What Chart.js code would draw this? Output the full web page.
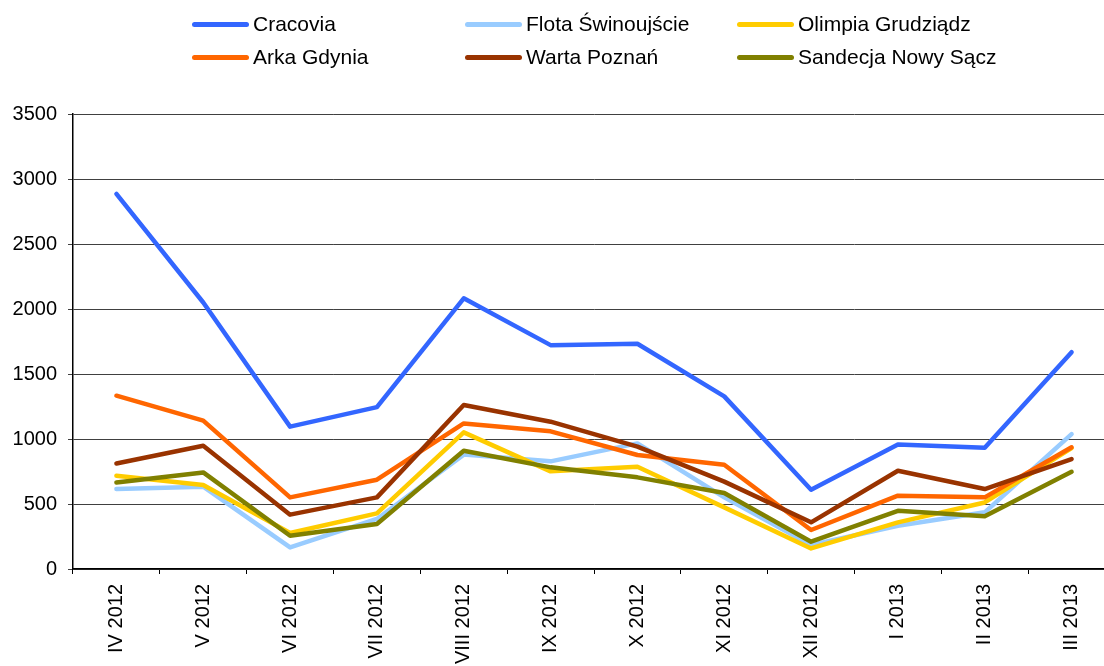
<!DOCTYPE html>
<html>
<head>
<meta charset="utf-8">
<script src="https://cdn.jsdelivr.net/npm/chart.js@4"></script>
<style>
  body { margin: 0; background: #fff; overflow: hidden; }
  #wrap { position: relative; width: 1115px; height: 666px; }
  #legend { position: absolute; left: 0; top: 0; width: 1104px; height: 80px;
            font-family: "Liberation Sans", Arial, sans-serif; font-size: 21px; color: #000; }
  .item { position: absolute; display: flex; align-items: center; height: 26px; white-space: nowrap; }
  .swatch { display: inline-block; width: 57px; height: 5px; border-radius: 3px; margin-right: 4px; }
</style>
</head>
<body>
<div id="wrap">
  <canvas id="chart"></canvas>
  <div id="legend"></div>
</div>
<script>
// --- dane ---
const categories = ['IV 2012', 'V 2012', 'VI 2012', 'VII 2012', 'VIII 2012', 'IX 2012',
                    'X 2012', 'XI 2012', 'XII 2012', 'I 2013', 'II 2013', 'III 2013'];
const cracovia = [2885, 2050, 1095, 1245, 2082, 1722, 1733, 1328, 610, 958, 932, 1668];
const flota    = [615, 633, 166, 385, 880, 828, 966, 551, 185, 333, 436, 1038];
const olimpia  = [718, 646, 277, 428, 1051, 751, 787, 474, 158, 359, 512, 930];
const arka     = [1333, 1141, 551, 687, 1120, 1059, 877, 802, 300, 564, 551, 936];
const warta    = [812, 948, 418, 551, 1261, 1133, 941, 672, 359, 756, 615, 846];
const sandecja = [666, 743, 256, 346, 910, 782, 705, 585, 210, 448, 405, 748];
const yTicks = [0, 500, 1000, 1500, 2000, 2500, 3000, 3500];

const series = [
    { label: 'Cracovia', data: cracovia, color: '#3366FF' },
    { label: 'Flota Świnoujście', data: flota, color: '#99CCFF' },
    { label: 'Olimpia Grudziądz', data: olimpia, color: '#FFCC00' },
    { label: 'Arka Gdynia', data: arka, color: '#FF6600' },
    { label: 'Warta Poznań', data: warta, color: '#993300' },
    { label: 'Sandecja Nowy Sącz', data: sandecja, color: '#808000' }
];

// --- legenda (3 kolumny) ---
const legend = document.getElementById('legend');
const colX = [192, 465, 737];
const rowY = [11, 44];
series.forEach((s, i) => {
    const el = document.createElement('div');
    el.className = 'item';
    el.style.left = colX[i % 3] + 'px';
    el.style.top = rowY[Math.floor(i / 3)] + 'px';
    el.innerHTML = '<span class="swatch" style="background:' + s.color + '"></span>' + s.label;
    legend.appendChild(el);
});

// --- wykres ---
const font = { family: "'Liberation Sans', Arial, sans-serif", size: 20 };

new Chart(document.getElementById('chart'), {
    type: 'line',
    data: {
        labels: categories,
        datasets: series.map((s, i) => ({
            label: s.label,
            data: s.data,
            borderColor: s.color,
            backgroundColor: s.color,
            borderWidth: 4.5,
            borderCapStyle: 'round',
            borderJoinStyle: 'round',
            pointRadius: 0,
            tension: 0,
            order: series.length - i
        }))
    },
    options: {
        responsive: true,
        maintainAspectRatio: false,
        animation: false,
        layout: { padding: { top: 114, right: 0, left: 0, bottom: 0 } },
        plugins: {
            legend: { display: false },
            tooltip: { enabled: false }
        },
        scales: {
            x: {
                offset: true,
                grid: { drawOnChartArea: false, color: '#000', tickLength: 5, offset: true },
                border: { color: '#000', width: 1.5 },
                ticks: { color: '#000', font: font, maxRotation: 90, minRotation: 90, padding: 10, autoSkip: false },
                afterFit: (axis) => { axis.height = 97; }
            },
            y: {
                min: 0,
                max: 3500,
                afterBuildTicks: (axis) => { axis.ticks = yTicks.map(v => ({ value: v })); },
                grid: { color: '#404040', lineWidth: 1, tickLength: 5 },
                border: { color: '#000', width: 1.5 },
                ticks: { color: '#000', font: font, padding: 11, callback: (v) => String(v) },
                afterFit: (axis) => { axis.width = 73; }
            }
        }
    }
});
</script>
</body>
</html>
